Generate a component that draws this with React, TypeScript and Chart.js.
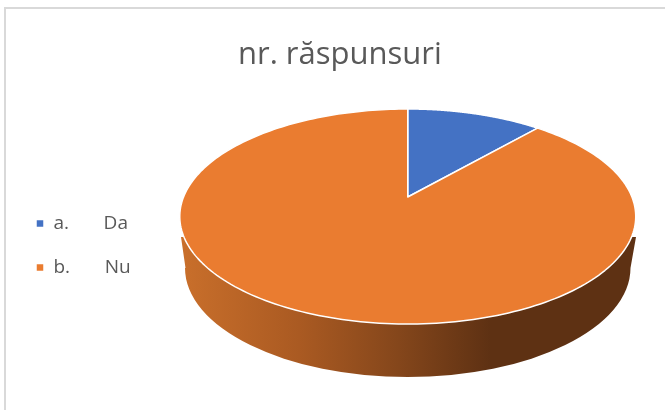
import React, { useEffect, useRef } from "react";
import { Chart, registerables } from "chart.js";

Chart.register(...registerables);

const chartTitle = "nr. răspunsuri";
const categories = ["a.       Da", "b.       Nu"];
const responses = [4, 31];
const sliceColors = ["#4472C4", "#EA7C30"];

// Perspective of the tilted pie: maps the library's unit circle to the page.
const SQUASH = 0.4637;
const TILT = -0.1814;
const DEPTH = { left: 181, right: 636, edgeY: 237, lowLeft: 185.5, lowRight: 631, lowY: 268, lowRy: 109 };
const SIDE_STOPS: [number, string][] = [
  [0, "#C96F2B"],
  [0.26, "#AA5A22"],
  [0.48, "#84461B"],
  [0.68, "#5E3113"],
  [1, "#5E3113"],
];

function project(el: any, angle: number): [number, number] {
  const u = Math.cos(angle);
  const v = Math.sin(angle);
  const w = 1 + TILT * v;
  return [el.x + (el.outerRadius * u) / w, el.y + (el.outerRadius * SQUASH * v) / w];
}

const tiltedPie = {
  id: "tiltedPie",
  beforeDatasetDraw(chart: any, args: any) {
    const ctx: CanvasRenderingContext2D = chart.ctx;
    const arcs: any[] = args.meta.data;
    const cx = arcs[0].x;

    // side wall
    const g = ctx.createLinearGradient(DEPTH.left, 0, DEPTH.right, 0);
    SIDE_STOPS.forEach(([o, c]) => g.addColorStop(o, c));
    ctx.save();
    ctx.beginPath();
    ctx.moveTo(DEPTH.left, DEPTH.edgeY);
    ctx.lineTo(DEPTH.lowLeft, DEPTH.lowY);
    ctx.ellipse(cx, DEPTH.lowY, (DEPTH.lowRight - DEPTH.lowLeft) / 2, DEPTH.lowRy, 0, Math.PI, 0, true);
    ctx.lineTo(DEPTH.right, DEPTH.edgeY);
    ctx.closePath();
    ctx.fillStyle = g;
    ctx.fill();

    // top face, each slice from the library's own arc angles
    arcs.forEach((el) => {
      const { startAngle, endAngle } = el.getProps(["startAngle", "endAngle"], true);
      ctx.beginPath();
      ctx.moveTo(el.x, el.y);
      const steps = 240;
      for (let i = 0; i <= steps; i++) {
        const [x, y] = project(el, startAngle + ((endAngle - startAngle) * i) / steps);
        ctx.lineTo(x, y);
      }
      ctx.closePath();
      ctx.fillStyle = el.options.backgroundColor;
      ctx.fill();
      ctx.strokeStyle = el.options.borderColor;
      ctx.lineWidth = el.options.borderWidth;
      ctx.lineJoin = "round";
      ctx.stroke();
    });
    ctx.restore();
    return false;
  },
};

export default function App() {
  const ref = useRef<HTMLCanvasElement>(null);
  useEffect(() => {
    const chart = new Chart(ref.current!, {
      type: "pie",
      data: {
        labels: categories.map((c) => [c + "\u00a0\u00a0"]),
        datasets: [
          {
            data: responses,
            backgroundColor: sliceColors,
            borderColor: "#FFFFFF",
            borderWidth: 1.5,
          },
        ],
      },
      plugins: [tiltedPie],
      options: {
        responsive: false,
        animation: false,
        radius: 224.2,
        layout: { padding: { left: 14.8, right: 0, top: 0, bottom: 108 } },
        plugins: {
          tooltip: { enabled: false },
          title: {
            display: true,
            text: chartTitle,
            color: "#595959",
            font: { family: "'Open Sans'", size: 31, weight: "normal", lineHeight: 1.2 },
            padding: { top: 36.4, bottom: 18.4 },
          },
          legend: {
            position: "left",
            align: "end",
            labels: {
              boxWidth: 8,
              boxHeight: 8,
              padding: 21.2,
              color: "#595959",
              font: { family: "'Open Sans'", size: 19, lineHeight: 1.2 },
            },
          },
        },
      } as any,
    });
    return () => chart.destroy();
  }, []);
  return (
    <div style={{ position: "fixed", left: 0, top: 0, width: 665, height: 410, background: "#fff", overflow: "hidden" }}>
      <canvas ref={ref} width={665} height={410} style={{ display: "block" }} />
      <div style={{ position: "absolute", left: 4, top: 7, width: 700, height: 500, borderLeft: "2px solid #D9D9D9", borderTop: "2px solid #D9D9D9" }} />
    </div>
  );
}
